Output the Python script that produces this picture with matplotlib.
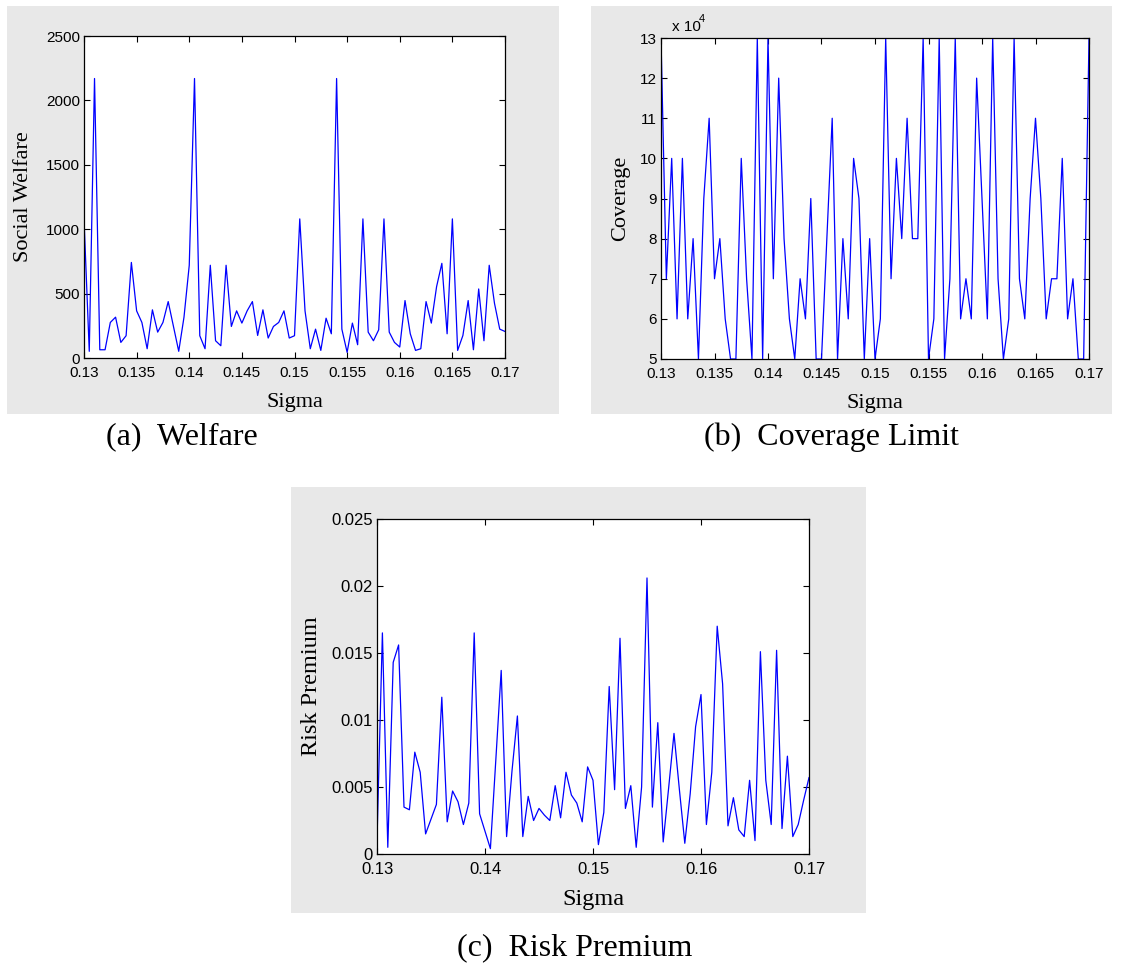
import numpy as np
import matplotlib
matplotlib.use("Agg")
import matplotlib.pyplot as plt
from matplotlib.patches import Rectangle

# ---- data -------------------------------------------------------------
sigma = np.round(0.13 + 0.0005 * np.arange(81), 4)

welfare = [1080, 52, 2170, 64, 64, 276, 317, 121, 173, 742,
           366, 276, 72, 374, 201, 276, 438, 245, 52, 317,
           720, 2170, 173, 72, 720, 134, 95, 720, 245, 366,
           271, 366, 438, 175, 374, 155, 245, 276, 366, 155,
           173, 1080, 366, 72, 224, 59, 309, 188, 2170, 224,
           44, 271, 103, 1080, 201, 134, 219, 1080, 201, 121,
           85, 446, 188, 59, 72, 438, 271, 554, 735, 188,
           1080, 59, 175, 446, 64, 536, 134, 720, 425, 224,
           206]

coverage = [130000, 70000, 100000, 60000, 100000, 60000, 80000, 50000, 90000, 110000,
            70000, 80000, 60000, 50000, 50000, 100000, 70000, 50000, 130000, 50000,
            130000, 70000, 120000, 80000, 60000, 50000, 70000, 60000, 90000, 50000,
            50000, 80000, 110000, 50000, 80000, 60000, 100000, 90000, 50000, 80000,
            50000, 60000, 130000, 70000, 100000, 80000, 110000, 80000, 80000, 130000,
            50000, 60000, 130000, 50000, 70000, 130000, 60000, 70000, 60000, 120000,
            90000, 60000, 130000, 70000, 50000, 60000, 130000, 70000, 60000, 90000,
            110000, 90000, 60000, 70000, 70000, 100000, 60000, 70000, 50000, 50000,
            130000]

risk_premium = [0.0010, 0.0165, 0.0005, 0.0143, 0.0156, 0.0035, 0.0033, 0.0076, 0.0061, 0.0015,
                0.0026, 0.0037, 0.0117, 0.0024, 0.0047, 0.0039, 0.0022, 0.0038, 0.0165, 0.0030,
                0.0017, 0.0004, 0.0070, 0.0137, 0.0013, 0.0062, 0.0103, 0.0013, 0.0043, 0.0025,
                0.0034, 0.0029, 0.0025, 0.0051, 0.0027, 0.0061, 0.0044, 0.0038, 0.0024, 0.0065,
                0.0055, 0.0007, 0.0031, 0.0125, 0.0048, 0.0161, 0.0034, 0.0051, 0.0005, 0.0050,
                0.0206, 0.0035, 0.0098, 0.0009, 0.0049, 0.0090, 0.0048, 0.0008, 0.0045, 0.0095,
                0.0119, 0.0022, 0.0061, 0.0170, 0.0127, 0.0021, 0.0042, 0.0018, 0.0013, 0.0055,
                0.0010, 0.0151, 0.0055, 0.0022, 0.0152, 0.0019, 0.0073, 0.0013, 0.0022, 0.0040,
                0.0057]

fine_xticks = [0.13, 0.135, 0.14, 0.145, 0.15, 0.155, 0.16, 0.165, 0.17]
fine_xlabels = ["0.13", "0.135", "0.14", "0.145", "0.15", "0.155", "0.16", "0.165", "0.17"]
coarse_xticks = [0.13, 0.14, 0.15, 0.16, 0.17]
coarse_xlabels = ["0.13", "0.14", "0.15", "0.16", "0.17"]
welfare_yticks = [0, 500, 1000, 1500, 2000, 2500]
welfare_ylabels = ["0", "500", "1000", "1500", "2000", "2500"]
coverage_yticks = [5, 6, 7, 8, 9, 10, 11, 12, 13]
coverage_ylabels = ["5", "6", "7", "8", "9", "10", "11", "12", "13"]
premium_yticks = [0, 0.005, 0.01, 0.015, 0.02, 0.025]
premium_ylabels = ["0", "0.005", "0.01", "0.015", "0.02", "0.025"]
COVERAGE_SCALE = 1e4

# ---- figure -----------------------------------------------------------
W, H = 1131, 967
fig = plt.figure(figsize=(W / 100, H / 100), dpi=100)
fig.patch.set_facecolor("white")

TICK_FONT = "Liberation Sans"
LABEL_FONT = "Liberation Serif"
GRAY = "#e8e8e8"


def px_rect(x0, y0, x1, y1):
    """Figure-fraction rectangle from pixel corners (origin top-left)."""
    return [x0 / W, 1 - y1 / H, (x1 - x0) / W, (y1 - y0) / H]


# full-figure canvas for the gray panel backdrops, kept beneath everything
bg = fig.add_axes([0, 0, 1, 1], zorder=-10)
bg.set_xlim(0, W)
bg.set_ylim(H, 0)
bg.axis("off")


def backdrop(x0, y0, x1, y1):
    bg.add_patch(Rectangle((x0, y0), x1 - x0, y1 - y0,
                           facecolor=GRAY, edgecolor="none"))


def style(ax, xticks, xlabels, yticks, ylabels, ylim, xlabel, ylabel,
          xlab_pos, ylab_pos, tick_size, label_size):
    ax.set_xlim(0.13, 0.17)
    ax.set_ylim(*ylim)
    ax.set_xticks(xticks)
    ax.set_xticklabels(xlabels, fontfamily=TICK_FONT)
    ax.set_yticks(yticks)
    ax.set_yticklabels(ylabels, fontfamily=TICK_FONT)
    ax.tick_params(direction="in", top=True, right=True, length=4.5,
                   width=0.8, labelsize=tick_size, colors="black")
    ax.tick_params(axis="x", pad=6)
    ax.tick_params(axis="y", pad=3)
    for s in ax.spines.values():
        s.set_linewidth(0.9)
        s.set_color("black")
    ax.set_xlabel(xlabel, fontfamily=LABEL_FONT, fontsize=label_size)
    ax.set_ylabel(ylabel, fontfamily=LABEL_FONT, fontsize=label_size)
    ax.xaxis.set_label_coords(0.5, xlab_pos)
    ax.yaxis.set_label_coords(ylab_pos, 0.5)
    ax.set_facecolor("white")


# gray panels
backdrop(7, 6, 559, 414)
backdrop(591, 6, 1112, 414)
backdrop(291, 487, 866, 913)

# (a) social welfare
ax1 = fig.add_axes(px_rect(84, 36, 505, 358))
ax1.plot(sigma, welfare, color="#0000ff", lw=0.9)
style(ax1, fine_xticks, fine_xlabels, welfare_yticks, welfare_ylabels,
      (0, 2500), "Sigma", "Social Welfare", -0.108, -0.12, 11, 16)

# (b) coverage limit
ax2 = fig.add_axes(px_rect(661, 38, 1089, 359))
ax2.plot(sigma, np.array(coverage) / COVERAGE_SCALE, color="#0000ff", lw=0.9)
style(ax2, fine_xticks, fine_xlabels, coverage_yticks, coverage_ylabels,
      (5, 13), "Sigma", "Coverage", -0.108, -0.072, 11, 16)
ax2.text(0.025, 1.012, "x 10", transform=ax2.transAxes, fontfamily=TICK_FONT,
         fontsize=11, ha="left", va="bottom")
ax2.text(0.088, 1.045, "4", transform=ax2.transAxes, fontfamily=TICK_FONT,
         fontsize=8, ha="left", va="bottom")

# (c) risk premium
ax3 = fig.add_axes(px_rect(377, 519, 809, 854))
ax3.plot(sigma, risk_premium, color="#0000ff", lw=0.9)
style(ax3, coarse_xticks, coarse_xlabels, premium_yticks, premium_ylabels,
      (0, 0.025), "Sigma", "Risk Premium", -0.103, -0.127, 12, 17.5)

# captions
cap_kw = dict(fontfamily=LABEL_FONT, fontsize=23, ha="center", va="center")
fig.text(182 / W, 1 - 437 / H, "(a)  Welfare", **cap_kw)
fig.text(832 / W, 1 - 437 / H, "(b)  Coverage Limit", **cap_kw)
fig.text(575 / W, 1 - 948 / H, "(c)  Risk Premium", **cap_kw)

fig.savefig("out.png", dpi=100, facecolor="white")
